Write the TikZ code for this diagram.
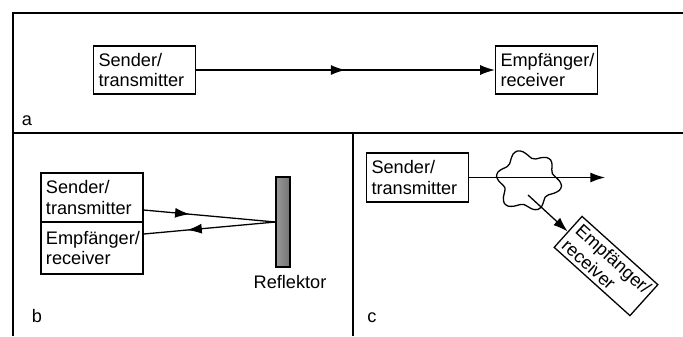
\documentclass[tikz,border=0pt]{standalone}
\usepackage{fontspec}
\setmainfont{Liberation Sans}
\usetikzlibrary{calc,arrows.meta,decorations.markings}
\tikzset{>={Latex[length=4.4mm,width=3mm]},
  box/.style={draw,line width=1.1pt,align=left,text width=2.76cm,inner xsep=0.15cm,minimum height=1.44cm},
  ray/.style={line width=1.1pt},
  midarrow/.style={postaction={decorate},decoration={markings,mark=at position #1 with {\arrow{>}}}},
  frame/.style={line width=1.8pt}}

\begin{document}
\begin{tikzpicture}[x=0.03cm,y=-0.03cm,font=\fontsize{15.5}{17.5}\selectfont]
    \useasboundingbox (0,0) rectangle (683,336);
    % panel frame
    \draw[frame] (683,13) -- (13,13) -- (13,336);
    \draw[frame] (13,133) -- (683,133);
    \draw[frame] (353,133) -- (353,336);

    % a: direct link
    \node[box] (sa) at (144.5,70) {Sender/\\transmitter};
    \node[box] (ea) at (546.5,70) {Empfänger/\\receiver};
    \draw[ray,->,midarrow=0.5] (sa) -- (ea);
    \node (la) at (27,121) {a};

    % b: reflector
    \node[box,minimum height=1.47cm] (sb) at (92,197.5) {Sender/\\transmitter};
    \node[box,minimum height=1.56cm] (eb) at (92,248) {Empfänger/\\receiver};
    \node[draw,line width=1.1pt,inner sep=0pt,minimum width=0.42cm,minimum height=2.7cm,
      left color=gray!80,middle color=gray!25,right color=gray!90!black] (refl) at (283,222) {};
    \node (lrefl) at (290,282) {Reflektor};
    \draw[ray,midarrow=0.35] ($(sb.east)+(0,12.5)$) -- (refl.west);
    \draw[ray,midarrow=0.67] (refl.west) -- ($(eb.east)+(0,-14)$);
    \node (lb) at (37,316) {b};

    % c: scattering object
    \node[box,minimum height=1.47cm] (sc) at (417.5,177.5) {Sender/\\transmitter};
    \coordinate (ct) at (605,177.5);
    \draw[ray,->] (sc.east) -- (ct);
    \draw[ray] plot[smooth cycle,samples=40,domain=0:351]
      ({528+29*(1+0.14*sin(6*\x+20)+0.04*cos(3*\x))*cos(\x)},{181+27*(1+0.14*sin(6*\x+20)+0.04*cos(3*\x))*sin(\x)});
    \coordinate (cs) at (528,195);
    \node[box,rotate=-42,minimum height=1.23cm] (rc) at (606,266) {Empfänger/\\receiver};
    \draw[ray,->] (cs) -- (rc.west);
    \node (lc) at (372,318) {c};
\end{tikzpicture}
\end{document}
